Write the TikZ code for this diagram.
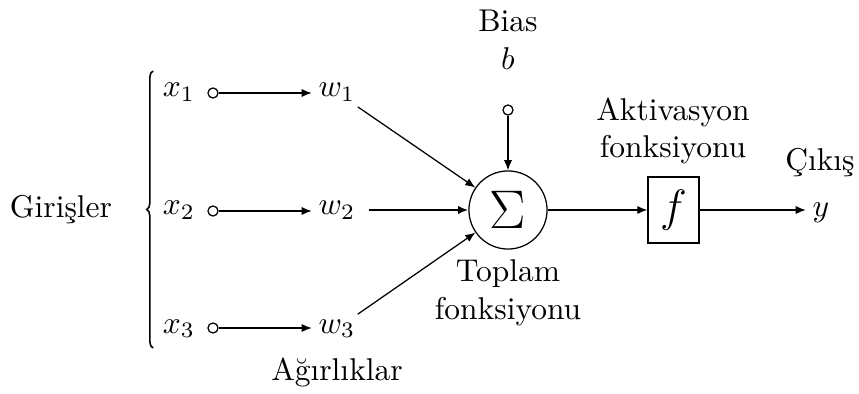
\documentclass[tikz,border=0pt]{standalone}
\usetikzlibrary{arrows.meta,decorations.pathreplacing}
\begin{document}
\begin{tikzpicture}[x=0.3175pt,y=-0.3175pt,
  arr/.style={-{Latex[length=3.2pt,width=2.6pt]}},
  inp/.style={circle,draw,fill=white,inner sep=0pt,minimum size=3.2pt},
  lbl/.style={inner sep=2pt,anchor=base},
  ttl/.style={align=center,inner sep=0pt}]
\useasboundingbox (0,0) rectangle (859,394);
% left part
\node[lbl] (gir) at (61,217) {Girişler};
\coordinate (brb) at (153,348);
\coordinate (brt) at (153,71);
\draw[line width=0.5pt,decorate,decoration={brace,amplitude=2pt,aspect=0.5}] (brb) -- (brt);
\node[lbl] (x1) at (179,97) {$x_1$};
\node[lbl] (x2) at (179,215) {$x_2$};
\node[lbl] (x3) at (179,333) {$x_3$};
\node[inp] (c1) at (213,93) {};
\node[inp] (c2) at (213,211) {};
\node[inp] (c3) at (213,328) {};
\node[lbl] (w1) at (337,97) {$w_1$};
\node[lbl] (w2) at (337,215) {$w_2$};
\node[lbl] (w3) at (337,333) {$w_3$};
\node[lbl] (agr) at (337,380) {Ağırlıklar};
\draw[arr] (c1) -- (c1 -| w1.west);
\draw[arr] (c2) -- (c2 -| w2.west);
\draw[arr] (c3) -- (c3 -| w3.west);
% summation
\node[circle,draw,minimum size=24.8pt,inner sep=0pt] (sum) at (508,210) {\fontsize{16}{19}\selectfont$\Sigma$};
\node[ttl] (bias) at (508,21) {Bias};
\node[ttl] (b) at (508,59) {$b$};
\node[inp] (cb) at (508,110) {};
\draw[arr] (cb) -- (sum);
\draw[arr,shorten <=8pt] (w1.center) -- (sum);
\draw[arr,line width=0.6pt] (w2.east |- sum) ++(2pt,0) coordinate (w2e) -- (sum);
\draw[arr,shorten <=8pt] (w3.center) -- (sum);
\node[ttl] (top) at (508,293) {Toplam\\fonksiyonu};
% activation
\node[draw,minimum width=16.2pt,minimum height=21pt,inner sep=0pt] (f) at (673.5,210) {\Large$f$};
\node[ttl] (akt) at (673,131) {Aktivasyon\\fonksiyonu};
\draw[arr] (sum) -- (f);
\node[lbl] (y) at (821,216) {$y$};
\node[lbl] (cik) at (820,170) {Çıkış};
\draw[arr] (f) -- (f -| y.west);
\end{tikzpicture}
\end{document}
